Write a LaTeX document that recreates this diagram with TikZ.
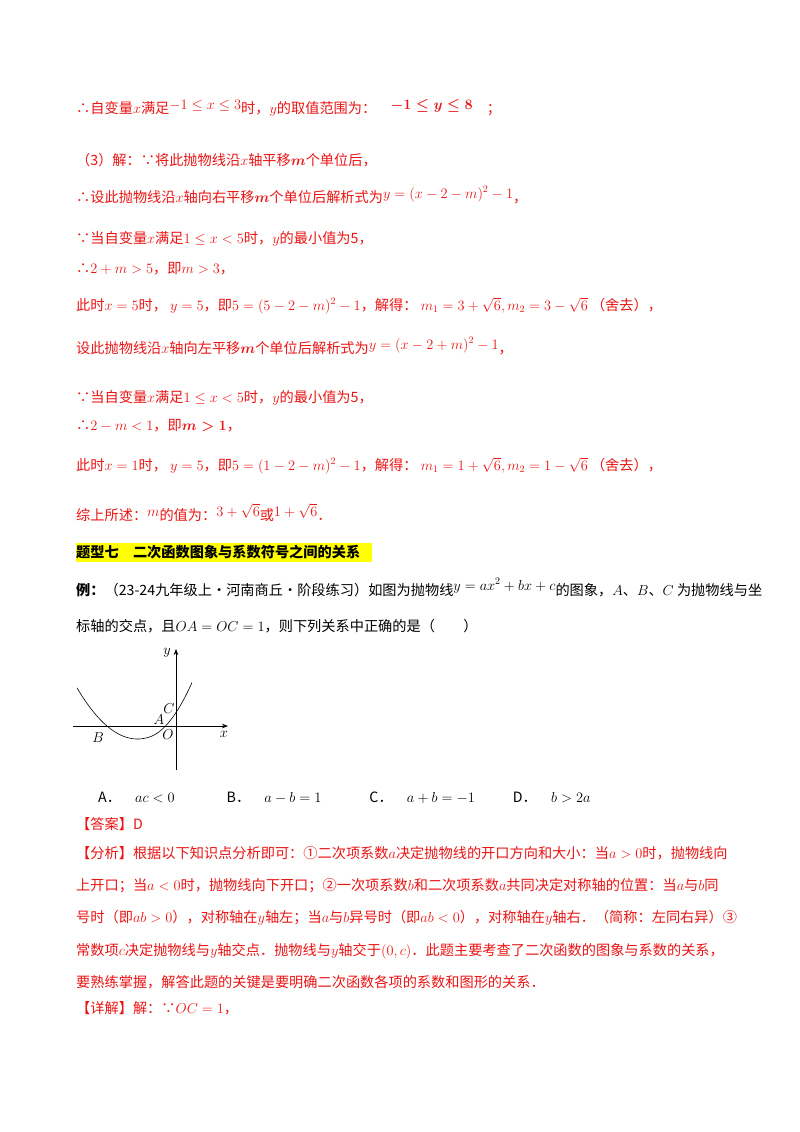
\documentclass[tikz,border=0pt]{standalone}
\usepackage{amsmath}
\usepackage{fontspec}
\usetikzlibrary{arrows.meta}
\setmainfont{Noto Sans CJK SC}
\definecolor{tred}{RGB}{235,20,20}
\definecolor{hl}{RGB}{255,255,0}
\begin{document}
\begin{tikzpicture}[x=1pt,y=-1pt,
  ln/.style={anchor=base west,inner sep=0pt,font=\fontsize{14.2}{16}\selectfont},
  r/.style={ln,text=tred},
  k/.style={ln,text=black},
  lab/.style={inner sep=0pt,font=\fontsize{14}{14}\selectfont}]
\useasboundingbox (0,0) rectangle (800,1132);
\fill[white] (0,0) rectangle (800,1132);
\node[r] (l1) at (76,113) {∴自变量$x$满足\raisebox{4pt}{$-1\le x\le 3$}时，$y$的取值范围为：\quad\raisebox{4pt}{$\boldsymbol{-1\le y\le 8}$}\quad；};
\node[r] (l2) at (76,165) {（3）解：∵将此抛物线沿$x$轴平移$\boldsymbol{m}$个单位后，};
\node[r] (l3) at (76,202) {∴设此抛物线沿$x$轴向右平移$\boldsymbol{m}$个单位后解析式为\raisebox{4pt}{$y=(x-2-m)^2-1$}，};
\node[r] (l4) at (76,243) {∵当自变量$x$满足$1\le x<5$时，$y$的最小值为5，};
\node[r] (l5) at (76,273) {∴$2+m>5$，即$m>3$，};
\node[r] (l6) at (76,310) {此时$x=5$时，\ $y=5$，即$5=(5-2-m)^2-1$，解得：\ $m_1=3+\sqrt6,m_2=3-\sqrt6$\ （舍去），};
\node[r] (l7) at (76,353) {设此抛物线沿$x$轴向左平移$\boldsymbol{m}$个单位后解析式为\raisebox{4pt}{$y=(x-2+m)^2-1$}，};
\node[r] (l8) at (76,402) {∵当自变量$x$满足$1\le x<5$时，$y$的最小值为5，};
\node[r] (l9) at (76,430) {∴$2-m<1$，即$\boldsymbol{m>1}$，};
\node[r] (l10) at (76,470) {此时$x=1$时，\ $y=5$，即$5=(1-2-m)^2-1$，解得：\ $m_1=1+\sqrt6,m_2=1-\sqrt6$\ （舍去），};
\node[r] (l11) at (76,520) {综上所述：\raisebox{4pt}{$m$}的值为：\raisebox{4pt}{$3+\sqrt6$}或\raisebox{4pt}{$1+\sqrt6$}．};
\fill[hl] (76,543) rectangle (372,562);
\node[k,font=\fontsize{14.2}{16}\selectfont\bfseries] (h) at (76,557) {题型七\quad 二次函数图象与系数符号之间的关系};
\node[k] (e1) at (76,595) {\textbf{例：}（23-24九年级上·河南商丘·阶段练习）如图为抛物线\raisebox{5pt}{$y=ax^2+bx+c$}的图象，$A$、$B$、$C$ 为抛物线与坐};
\node[k] (e2) at (76,631) {标轴的交点，且$OA=OC=1$，则下列关系中正确的是（\qquad）};
% graph
\coordinate (xa) at (73,726); \coordinate (xb) at (228,726);
\coordinate (ya) at (176,770); \coordinate (yb) at (176,649);
\draw[-{Stealth[length=6pt]},line width=0.6pt] (xa) -- (xb);
\draw[-{Stealth[length=6pt]},line width=0.6pt] (ya) -- (yb);
\draw[line width=0.6pt,smooth] plot[domain=77:192,samples=60] (\x,{726-0.01398*(\x-107)*(\x-168)-0.0085*max(\x-150,0)^2});
\node[lab] (C) at (169,709) {$C$};
\node[lab] (A) at (159,720) {$A$};
\node[lab] (O) at (168,735) {$O$};
\node[lab] (B) at (98,738) {$B$};
\node[lab] (xl) at (224,734) {$x$};
\node[lab] (yl) at (167,653) {$y$};
\node[k] (opt) at (98,802) {A．\quad$ac<0$\hspace{52pt}B．\quad$a-b=1$\hspace{48pt}C．\quad$a+b=-1$\hspace{38pt}D．\quad$b>2a$};
\node[r] (ans) at (76,829) {【答案】D};
\node[r] (f1) at (76,858) {【分析】根据以下知识点分析即可：①二次项系数$a$决定抛物线的开口方向和大小：当$a>0$时，抛物线向};
\node[r] (f2) at (76,890) {上开口；当$a<0$时，抛物线向下开口；②一次项系数$b$和二次项系数$a$共同决定对称轴的位置：当$a$与$b$同};
\node[r] (f3) at (76,922) {号时（即$ab>0$），对称轴在$y$轴左；当$a$与$b$异号时（即$ab<0$），对称轴在$y$轴右．（简称：左同右异）③};
\node[r] (f4) at (76,955) {常数项$c$决定抛物线与$y$轴交点．抛物线与$y$轴交于$(0,c)$．此题主要考查了二次函数的图象与系数的关系，};
\node[r] (f5) at (76,987) {要熟练掌握，解答此题的关键是要明确二次函数各项的系数和图形的关系．};
\node[r] (d1) at (76,1013) {【详解】解：∵$OC=1$，};
\end{tikzpicture}
\end{document}
